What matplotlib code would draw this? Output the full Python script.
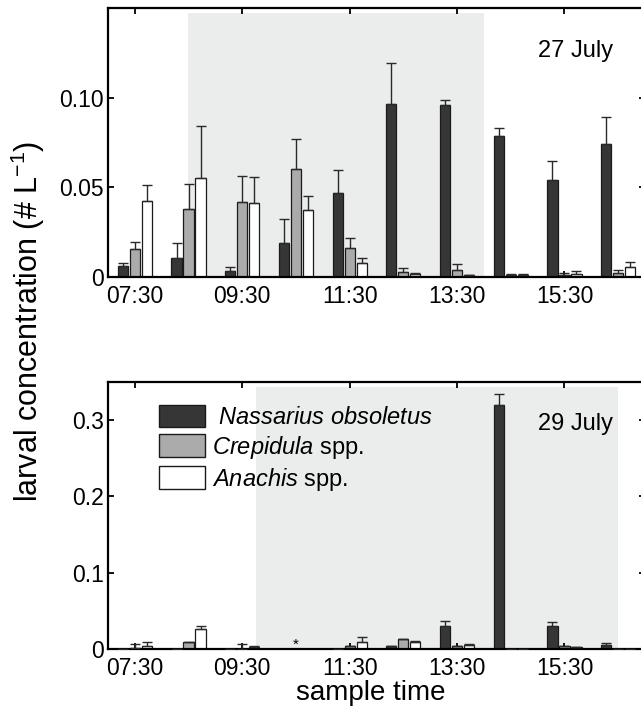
import numpy as np
import matplotlib.pyplot as plt
from matplotlib.patches import Patch

plt.rcParams['font.family'] = ['Liberation Sans', 'DejaVu Sans']
plt.rcParams['mathtext.fontset'] = 'custom'
plt.rcParams['mathtext.rm'] = 'Liberation Sans'
plt.rcParams['mathtext.it'] = 'Liberation Sans:italic'

# sample times (hours of day)
hours = [7.5, 8.5, 9.5, 10.5, 11.5, 12.5, 13.5, 14.5, 15.5, 16.5]
tick_hours = [7.5, 9.5, 11.5, 13.5, 15.5]
tick_labels = ['07:30', '09:30', '11:30', '13:30', '15:30']
species = [r' $\it{Nassarius\ obsoletus}$', r'$\it{Crepidula}$ spp.', r'$\it{Anachis}$ spp.']

# 27 July: mean and top of error bar
nas_27 = [0.0062, 0.0104, 0.0034, 0.0192, 0.0466, 0.0966, 0.0957, 0.0789, 0.0541, 0.0743]
nas_27_hi = [0.0078, 0.0188, 0.0058, 0.0321, 0.0595, 0.1196, 0.0985, 0.0830, 0.0649, 0.0892]
cre_27 = [0.0155, 0.0377, 0.0416, 0.0603, 0.0164, 0.0030, 0.0039, 0.0011, 0.0011, 0.0021]
cre_27_hi = [0.0194, 0.0517, 0.0563, 0.0771, 0.0220, 0.0052, 0.0071, 0.0019, 0.0022, 0.0037]
ana_27 = [0.0425, 0.0554, 0.0410, 0.0371, 0.0076, 0.0019, 0.0011, 0.0011, 0.0015, 0.0056]
ana_27_hi = [0.0513, 0.0843, 0.0558, 0.0450, 0.0108, 0.0024, 0.0013, 0.0019, 0.0032, 0.0082]

# 29 July (10:30 not sampled)
nan = np.nan
nas_29 = [0.0005, 0.0005, 0.0005, nan, 0.0, 0.0035, 0.0297, 0.320, 0.0305, 0.0052]
nas_29_hi = [0.0005, 0.0005, 0.0005, nan, 0.0, 0.0044, 0.0366, 0.334, 0.0360, 0.0078]
cre_29 = [0.0017, 0.0087, 0.0005, nan, 0.0044, 0.0130, 0.0035, 0.0005, 0.0044, 0.0]
cre_29_hi = [0.0070, 0.0087, 0.0070, nan, 0.0044, 0.0130, 0.0035, 0.0005, 0.0044, 0.0]
ana_29 = [0.0044, 0.0260, 0.0026, nan, 0.0092, 0.0087, 0.0057, 0.0005, 0.0026, 0.0]
ana_29_hi = [0.0087, 0.0305, 0.0035, nan, 0.0153, 0.0110, 0.0065, 0.0005, 0.0030, 0.0]

colors = ['#363636', '#ababab', '#ffffff']
shade = '#ebecec'
W, H = 641, 714

fig = plt.figure(figsize=(W / 100, H / 100), dpi=100)
ax1 = fig.add_axes([108 / W, 1 - 277 / H, 537 / W, 269 / H])
ax2 = fig.add_axes([108 / W, 1 - 649 / H, 537 / W, 267 / H])


def draw(ax, series, his, span, ymax, yticks, ylabels, date, date_y):
    ax.axvspan(span[0], span[1], ymin=0, ymax=0.981, color=shade, lw=0, zorder=0)
    x = np.array(hours)
    offsets = [-0.223, 0.0, 0.223]
    for vals, hi, c, off in zip(series, his, colors, offsets):
        v = np.array(vals)
        up = np.array(hi) - v
        ax.bar(x + off, v, width=0.19, color=c, edgecolor='#1a1a1a', linewidth=0.9, zorder=2)
        ax.errorbar(x + off, v, yerr=[np.zeros_like(v), up], fmt='none', ecolor='#2a2a2a',
                    elinewidth=1.0, capsize=3.5, capthick=1.0, zorder=3)
    ax.set_xlim(7.0, 17.0)
    ax.set_ylim(0, ymax)
    ax.set_xticks(tick_hours)
    ax.set_xticklabels(tick_labels)
    ax.set_yticks(yticks)
    ax.set_yticklabels(ylabels)
    ax.tick_params(direction='in', length=4, width=1.3, top=True, right=True,
                   labelsize=16.5)
    ax.tick_params(axis='x', pad=6)
    ax.tick_params(axis='y', pad=3)
    for s in ax.spines.values():
        s.set_linewidth(1.6)
    ax.text(15.0, date_y, date, fontsize=17, ha='left', va='center')


draw(ax1, [nas_27, cre_27, ana_27], [nas_27_hi, cre_27_hi, ana_27_hi], (8.49, 14.0),
     0.15, [0, 0.05, 0.10], ['0', '0.05', '0.10'], '27 July', 0.126)
draw(ax2, [nas_29, cre_29, ana_29], [nas_29_hi, cre_29_hi, ana_29_hi], (9.75, 16.5),
     0.35, [0, 0.1, 0.2, 0.3], ['0', '0.1', '0.2', '0.3'], '29 July', 0.295)
ax2.text(10.5, 0.006, '*', fontsize=11, ha='center', va='center')

handles = [Patch(facecolor=c, edgecolor='#1a1a1a', linewidth=1.0) for c in colors]
ax2.legend(handles, species, loc='upper left', bbox_to_anchor=(0.095, 0.915),
           frameon=False, fontsize=17, handlelength=1.95, handleheight=1.1,
           handletextpad=0.3, labelspacing=0.2, borderpad=0, borderaxespad=0)

fig.text(28 / W, 1 - 321 / H, r'larval concentration (# L$^{-1}$)', rotation=90,
         fontsize=22, ha='center', va='center')
fig.text(371 / W, 1 - 693 / H, 'sample time', fontsize=20, ha='center', va='center')

fig.savefig('out.png', dpi=100)
